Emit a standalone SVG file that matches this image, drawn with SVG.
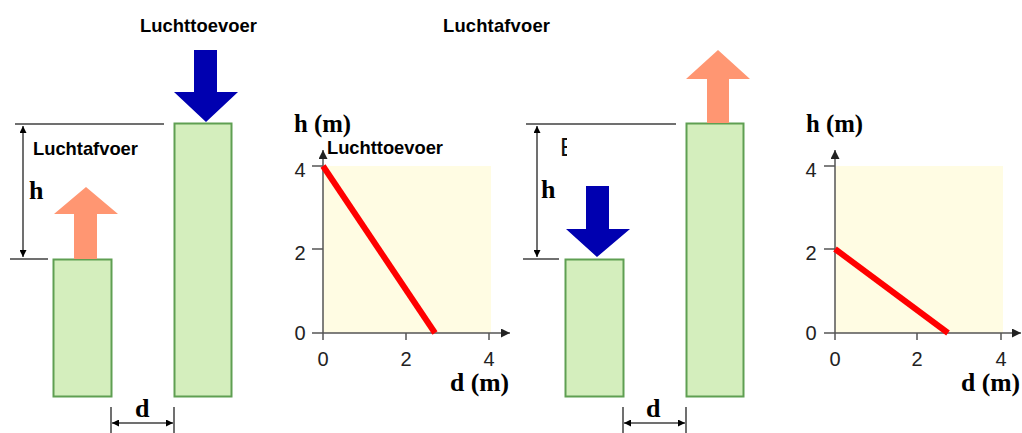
<svg xmlns="http://www.w3.org/2000/svg" width="1022" height="433" viewBox="0 0 1022 433">
<style>
.lbl{font-family:"Liberation Sans",Arial,sans-serif;font-weight:bold;font-size:18.4px;fill:#000}
.dim{font-family:"Liberation Serif","Times New Roman",serif;font-weight:bold;font-size:26px;fill:#000}
.num{font-family:"Liberation Sans",Arial,sans-serif;font-size:20px;fill:#222}
.bld{fill:#d4eebd;stroke:#5f9f52;stroke-width:2}
.dl{stroke:#707070;stroke-width:2;fill:none}
.ax{stroke:#555;stroke-width:1.5;fill:none}
.plot{fill:#fffce3}
.red{stroke:#ff0000;stroke-width:6;stroke-linecap:butt}
.up{fill:#ff9672}
.down{fill:#0000b0}
</style>
<defs>
<marker id="ah" viewBox="0 0 10 10" refX="10" refY="5" markerWidth="7" markerHeight="7" orient="auto-start-reverse" markerUnits="userSpaceOnUse">
<path d="M0,0 L10,5 L0,10 z" fill="#000"/>
</marker>
<marker id="axh" viewBox="0 0 10 10" refX="10" refY="5" markerWidth="9" markerHeight="9" orient="auto" markerUnits="userSpaceOnUse">
<path d="M0,0 L10,5 L0,10 z" fill="#222"/>
</marker>
<clipPath id="cutE"><rect x="560" y="135" width="7" height="25"/></clipPath>
</defs>

<text class="lbl" x="140" y="32" textLength="117">Luchttoevoer</text>
<text class="lbl" x="443" y="32" textLength="107">Luchtafvoer</text>

<g id="left-low-building">
<rect class="bld" x="53.5" y="259.5" width="58" height="137"/>
</g>
<g id="left-high-building">
<rect class="bld" x="174.5" y="123.5" width="57" height="273"/>
</g>
<g id="left-exhaust-arrow">
<polygon class="up" points="74,259 97,259 97,214 118,214 86,187 54,214 74,214"/>
<text class="lbl" x="33" y="155" textLength="105">Luchtafvoer</text>
</g>
<g id="left-supply-arrow">
<polygon class="down" points="194,50 217,50 217,92 238,92 206,122 174,92 194,92"/>
</g>

<g id="connectors">
<line class="dl" x1="15" y1="124" x2="164" y2="124"/>
<line class="dl" x1="10" y1="259" x2="48" y2="259"/>
<line class="dl" x1="23" y1="126" x2="23" y2="257" marker-start="url(#ah)" marker-end="url(#ah)"/>
<line class="dl" x1="111" y1="407" x2="111" y2="433"/>
<line class="dl" x1="174" y1="407" x2="174" y2="433"/>
<line class="dl" x1="112" y1="423" x2="173" y2="423" marker-start="url(#ah)" marker-end="url(#ah)"/>
<line class="dl" x1="526" y1="124" x2="676" y2="124"/>
<line class="dl" x1="523" y1="259" x2="559" y2="259"/>
<line class="dl" x1="537" y1="126" x2="537" y2="257" marker-start="url(#ah)" marker-end="url(#ah)"/>
<line class="dl" x1="623" y1="407" x2="623" y2="433"/>
<line class="dl" x1="686" y1="407" x2="686" y2="433"/>
<line class="dl" x1="624" y1="423" x2="685" y2="423" marker-start="url(#ah)" marker-end="url(#ah)"/>
</g>
<text class="dim" x="29" y="199">h</text>
<text class="dim" x="135" y="417">d</text>
<text class="dim" x="541" y="198">h</text>
<text class="dim" x="646" y="417">d</text>

<g id="chart-1">
<rect class="plot" x="323" y="166" width="168" height="167"/>
<line class="ax" x1="323" y1="340" x2="323" y2="150" marker-end="url(#axh)"/>
<line class="ax" x1="312" y1="333" x2="510" y2="333" marker-end="url(#axh)"/>
<line class="ax" x1="312" y1="166" x2="323" y2="166"/>
<line class="ax" x1="312" y1="249" x2="323" y2="249"/>
<line class="ax" x1="406" y1="333" x2="406" y2="340"/>
<line class="ax" x1="489" y1="333" x2="489" y2="340"/>
<line class="red" x1="323" y1="166" x2="435" y2="333"/>
<text class="num" x="300" y="177" text-anchor="middle">4</text>
<text class="num" x="300" y="260" text-anchor="middle">2</text>
<text class="num" x="300" y="340" text-anchor="middle">0</text>
<text class="num" x="323" y="366" text-anchor="middle">0</text>
<text class="num" x="406" y="366" text-anchor="middle">2</text>
<text class="num" x="489" y="366" text-anchor="middle">4</text>
<text class="dim" x="294" y="132" textLength="57" lengthAdjust="spacingAndGlyphs">h (m)</text>
<text class="dim" x="450" y="391" textLength="59" lengthAdjust="spacingAndGlyphs">d (m)</text>
<text class="lbl" x="327" y="154" textLength="116">Luchttoevoer</text>
</g>

<g id="right-low-building">
<rect class="bld" x="565.5" y="259.5" width="58" height="137"/>
</g>
<g id="right-high-building">
<rect class="bld" x="686.5" y="123.5" width="57" height="273"/>
</g>
<g id="right-exhaust-arrow">
<polygon class="up" points="707,123 729,123 729,79 750,79 718,50 686,79 707,79"/>
</g>
<g id="right-supply-arrow">
<polygon class="down" points="586,186 609,186 609,229 630,229 597,257 566,229 586,229"/>
</g>
<text x="560" y="156" clip-path="url(#cutE)" style="font-family:'Liberation Sans',Arial,sans-serif;font-size:25px;fill:#111">E</text>

<g id="chart-2">
<rect class="plot" x="835" y="166" width="168" height="167"/>
<line class="ax" x1="835" y1="340" x2="835" y2="150" marker-end="url(#axh)"/>
<line class="ax" x1="824" y1="333" x2="1021" y2="333" marker-end="url(#axh)"/>
<line class="ax" x1="824" y1="166" x2="835" y2="166"/>
<line class="ax" x1="824" y1="249" x2="835" y2="249"/>
<line class="ax" x1="917" y1="333" x2="917" y2="340"/>
<line class="ax" x1="1001" y1="333" x2="1001" y2="340"/>
<line class="red" x1="835" y1="249" x2="948" y2="333"/>
<text class="num" x="811" y="177" text-anchor="middle">4</text>
<text class="num" x="811" y="260" text-anchor="middle">2</text>
<text class="num" x="811" y="340" text-anchor="middle">0</text>
<text class="num" x="835" y="366" text-anchor="middle">0</text>
<text class="num" x="917" y="366" text-anchor="middle">2</text>
<text class="num" x="1001" y="366" text-anchor="middle">4</text>
<text class="dim" x="806" y="132" textLength="57" lengthAdjust="spacingAndGlyphs">h (m)</text>
<text class="dim" x="961" y="391" textLength="59" lengthAdjust="spacingAndGlyphs">d (m)</text>
</g>
</svg>
